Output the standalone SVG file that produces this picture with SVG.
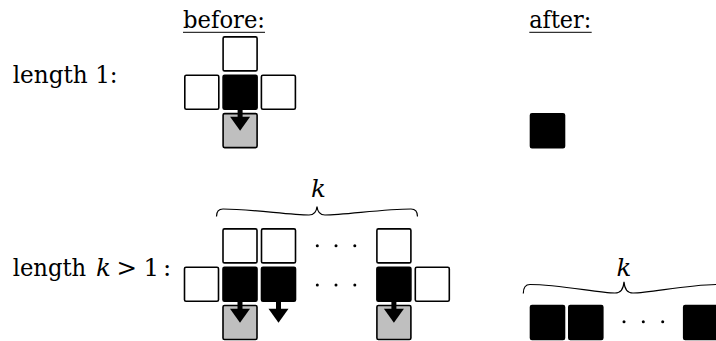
<svg xmlns="http://www.w3.org/2000/svg" width="716" height="341" viewBox="0 0 716 341">
<style>
.t{font-family:"DejaVu Serif",serif;font-size:24.5px;fill:#000}
.it{font-style:italic}
.w{fill:#fff;stroke:#000;stroke-width:1.6}
.b{fill:#000;stroke:#000;stroke-width:1.6}
.g{fill:#bfbfbf;stroke:#000;stroke-width:1.6}
.brace{fill:none;stroke:#000;stroke-width:1.2}
.ul{stroke:#000;stroke-width:1}
.shaft{stroke:#000;stroke-width:5}
</style>
<defs>
<rect id="sq" x="-17" y="-17" width="34" height="34" rx="1.5"/>
<g id="arr"><line class="shaft" x1="0" y1="0" x2="0" y2="25"/><polygon points="-10,24.5 10,24.5 0,38.5"/></g>
</defs>
<rect width="716" height="341" fill="#fff"/>
<g id="labels">
<text class="t" x="183" y="28.3" textLength="82" lengthAdjust="spacingAndGlyphs">before:</text>
<line class="ul" x1="183" y1="32.3" x2="265" y2="32.3"/>
<text class="t" x="529.3" y="28.3" textLength="62" lengthAdjust="spacingAndGlyphs">after:</text>
<line class="ul" x1="529.3" y1="32.3" x2="591.7" y2="32.3"/>
<text class="t" x="12.7" y="83.3" textLength="105" lengthAdjust="spacingAndGlyphs">length 1:</text>
<text class="t" y="275.5"><tspan x="12.7" textLength="73.5" lengthAdjust="spacingAndGlyphs">length</tspan><tspan class="it" x="96">k</tspan><tspan x="116.5">&gt;</tspan><tspan x="143.5">1</tspan><tspan x="163">:</tspan></text>
</g>
<g id="before1">
<use href="#sq" class="w" x="240.1" y="53.9"/>
<use href="#sq" class="w" x="201.8" y="92.2"/>
<use href="#sq" class="b" x="240.1" y="92.2"/>
<use href="#sq" class="w" x="278.4" y="92.2"/>
<use href="#sq" class="g" x="240.1" y="130.6"/>
</g>
<g id="after1">
<use href="#sq" class="b" x="547.5" y="130.8"/>
</g>
<g id="beforek">
<use href="#sq" class="w" x="240" y="245.9"/>
<use href="#sq" class="w" x="278.5" y="245.9"/>
<use href="#sq" class="w" x="393.9" y="245.9"/>
<use href="#sq" class="w" x="201.5" y="284.3"/>
<use href="#sq" class="b" x="240" y="284.3"/>
<use href="#sq" class="b" x="278.5" y="284.3"/>
<use href="#sq" class="b" x="393.9" y="284.3"/>
<use href="#sq" class="w" x="432.3" y="284.3"/>
<use href="#sq" class="g" x="240" y="322.5"/>
<use href="#sq" class="g" x="393.9" y="322.5"/>
<circle cx="317.3" cy="245.8" r="1.5"/><circle cx="336" cy="245.8" r="1.5"/><circle cx="354.8" cy="245.8" r="1.5"/>
<circle cx="317.3" cy="285" r="1.5"/><circle cx="336" cy="285" r="1.5"/><circle cx="354.8" cy="285" r="1.5"/>
<path class="brace" d="M216.5,216.5 C216.5,211 218.5,209 223,209 C250,209 290,215 309,215 C314,215 316.5,212 317,206.5 C317.5,212 320,215 325,215 C344,215 384,209 411,209 C415.5,209 417.5,211 417.5,216.5"/>
<text class="t it" x="311" y="196.7">k</text>
</g>
<g id="afterk">
<use href="#sq" class="b" x="547.5" y="322.5"/>
<use href="#sq" class="b" x="585.8" y="322.5"/>
<use href="#sq" class="b" x="700.7" y="322.5"/>
<circle cx="624" cy="321.7" r="1.5"/><circle cx="643.3" cy="321.7" r="1.5"/><circle cx="662.7" cy="321.7" r="1.5"/>
<path class="brace" d="M523.3,293.5 C523.3,287 525.5,284.5 530,284.5 C560,284.5 598,293 615,293 C621,293 623.5,289 624,281.7 C624.5,289 627,293 633,293 C650,293 688,284.5 718,284.5 C722.5,284.5 724.7,287 724.7,293.5"/>
<text class="t it" x="616.5" y="275.5">k</text>
</g>
<g id="connectors">
<use href="#arr" x="240.1" y="92.2"/>
<use href="#arr" x="240" y="284.3"/>
<use href="#arr" x="278.5" y="284.3"/>
<use href="#arr" x="393.9" y="284.3"/>
</g>
</svg>
